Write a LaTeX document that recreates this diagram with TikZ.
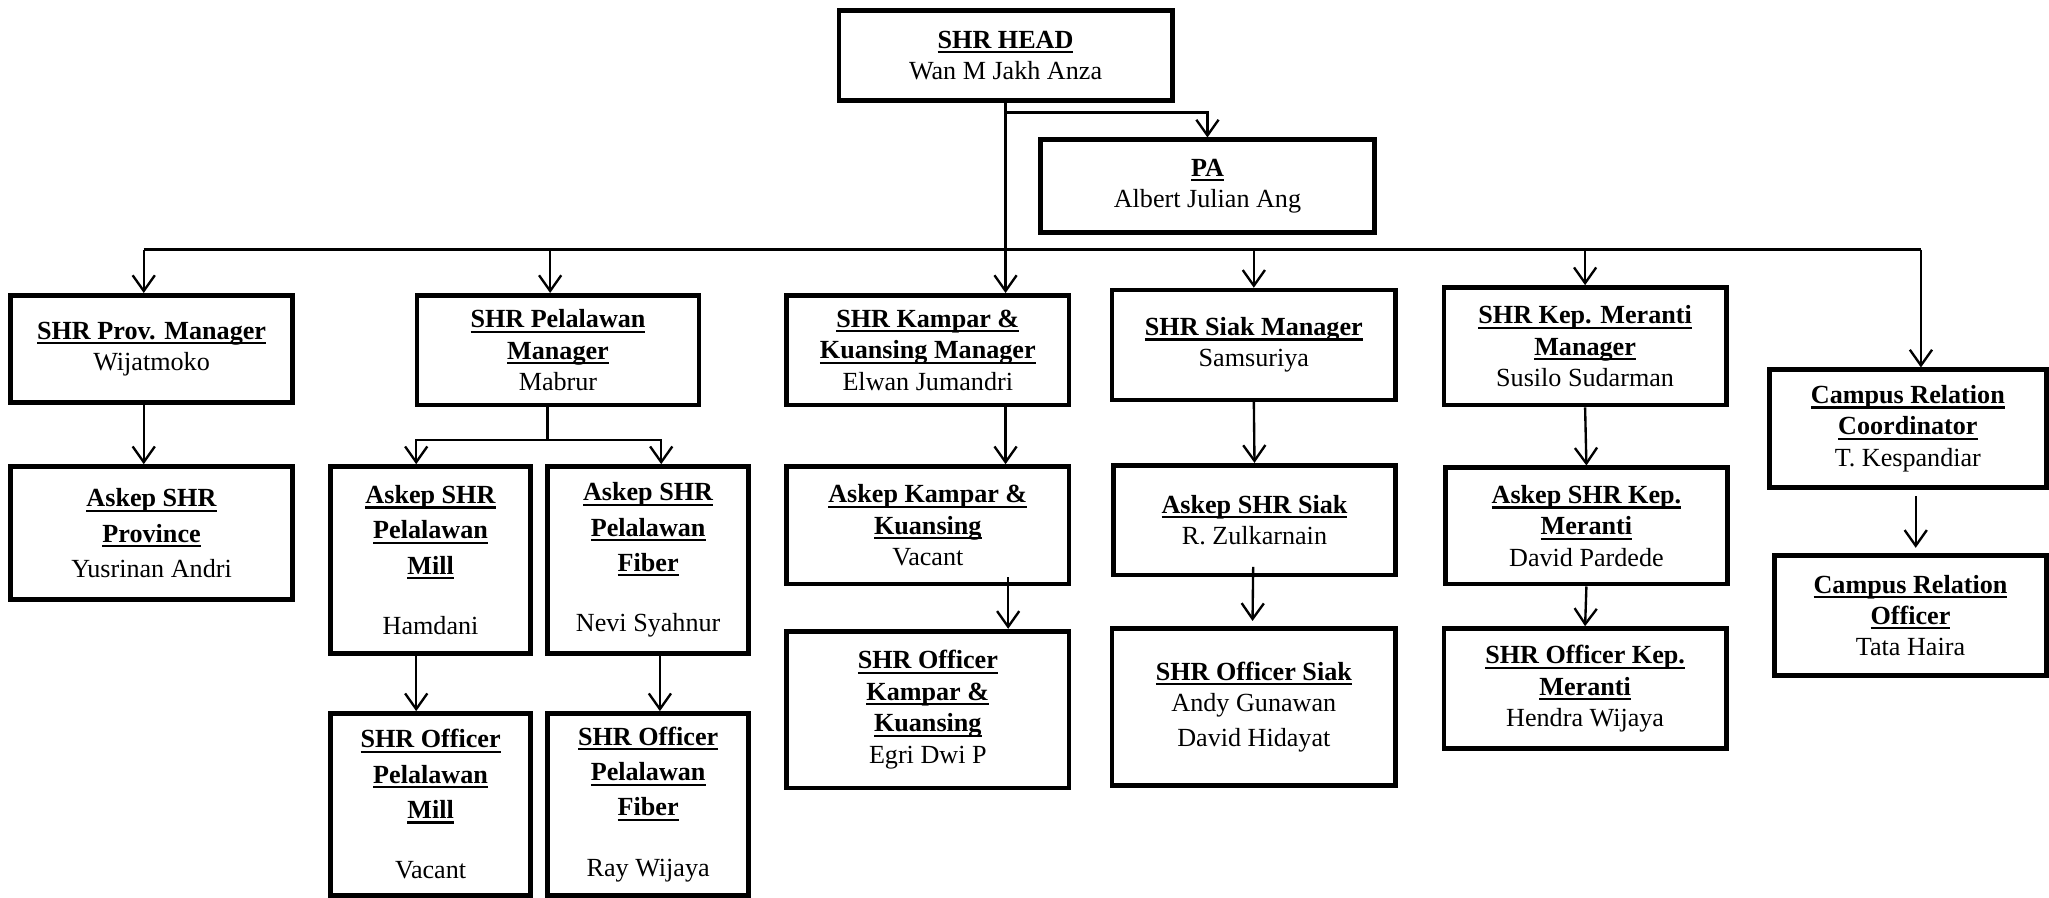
\documentclass[tikz,border=0pt]{standalone}
\usepackage{fontspec}
\setmainfont{Liberation Serif}
\usetikzlibrary{arrows.meta,calc}

\newcommand{\ttl}[1]{\leavevmode\setbox0\hbox{\textbf{#1}}\rlap{\rule[-1.9pt]{\wd0}{0.8pt}}\box0}

\tikzset{
    post/.style={draw, line width=1.8pt, align=center, inner sep=1pt,
        font=\fontsize{10}{12}\selectfont},
    tallpost/.style={post, font=\fontsize{10}{13.5}\selectfont},
    boxsize/.style 2 args={minimum width=#1*0.5pt, minimum height=#2*0.5pt},
    line/.style={line width=0.9pt},
    link/.style={line, -{Straight Barb[length=6pt,width=8.5pt]}},
}

\begin{document}
\begin{tikzpicture}[x=0.5pt, y=-0.5pt]
    
    \useasboundingbox (0,0) rectangle (1568,687);
    
    %head and PA:
    \node[post, boxsize={255}{69}] (head) at (769.5,42.5) {\ttl{SHR HEAD}\\ Wan M Jakh Anza};
    \node[post, boxsize={256}{71}] (pa) at (924,142.5) {\ttl{PA}\\ Albert Julian Ang};
    
    %managers:
    \node[post, boxsize={216}{82}] (prov) at (116,267) {\ttl{SHR Prov. Manager}\\ Wijatmoko};
    \node[post, boxsize={216}{84}] (pel) at (427,268) {\ttl{SHR Pelalawan}\\ \ttl{Manager}\\ Mabrur};
    \node[post, boxsize={216}{84}] (kam) at (710,268) {\ttl{SHR Kampar \&}\\ \ttl{Kuansing Manager}\\ Elwan Jumandri};
    \node[post, boxsize={217}{84}] (siak) at (959.5,264) {\ttl{SHR Siak Manager}\\ Samsuriya};
    \node[post, boxsize={216}{90}] (mer) at (1213,265) {\ttl{SHR Kep. Meranti}\\ \ttl{Manager}\\ Susilo Sudarman};
    \node[post, boxsize={212}{90}] (camp) at (1460,328) {\ttl{Campus Relation}\\ \ttl{Coordinator}\\ T. Kespandiar};
    
    %askep:
    \node[tallpost, boxsize={216}{102}] (askprov) at (116,408) {\ttl{Askep SHR}\\ \ttl{Province}\\ Yusrinan Andri};
    \node[tallpost, boxsize={153}{143}] (askmill) at (329.5,428.5) {\ttl{Askep SHR}\\ \ttl{Pelalawan}\\ \ttl{Mill}\\[9.5pt] Hamdani};
    \node[tallpost, boxsize={154}{143}] (askfib) at (496,428.5) {\ttl{Askep SHR}\\ \ttl{Pelalawan}\\ \ttl{Fiber}\\[9.5pt] Nevi Syahnur};
    \node[post, boxsize={216}{90}] (askkam) at (710,402) {\ttl{Askep Kampar \&}\\ \ttl{Kuansing}\\ Vacant};
    \node[post, boxsize={216}{84}] (asksiak) at (960,398) {\ttl{Askep SHR Siak}\\ R. Zulkarnain};
    \node[post, boxsize={216}{89}] (askmer) at (1214,402.5) {\ttl{Askep SHR Kep.}\\ \ttl{Meranti}\\ David Pardede};
    \node[post, boxsize={208}{92}] (offcamp) at (1462,471) {\ttl{Campus Relation}\\ \ttl{Officer}\\ Tata Haira};
    
    %officers:
    \node[tallpost, boxsize={153}{139}] (offmill) at (329.5,615.5) {\ttl{SHR Officer}\\ \ttl{Pelalawan}\\ \ttl{Mill}\\[9.5pt] Vacant};
    \node[tallpost, boxsize={154}{139}] (offfib) at (496,615.5) {\ttl{SHR Officer}\\ \ttl{Pelalawan}\\ \ttl{Fiber}\\[9.5pt] Ray Wijaya};
    \node[post, boxsize={216}{120}] (offkam) at (710,543) {\ttl{SHR Officer}\\ \ttl{Kampar \&}\\ \ttl{Kuansing}\\ Egri Dwi P};
    \node[post, boxsize={217}{120}] (offsiak) at (959.5,541) {\ttl{SHR Officer Siak}\\ Andy Gunawan\\[1.5pt] David Hidayat};
    \node[post, boxsize={216}{92}] (offmer) at (1213,527) {\ttl{SHR Officer Kep.}\\ \ttl{Meranti}\\ Hendra Wijaya};
    
    %lines from the head:
    \coordinate (fork) at (769.5,86);
    \coordinate (bus) at (0,191);
    \draw[link] (fork) -| (pa.north);
    \draw[link] (head.south) -- (head.south |- kam.north);
    \draw[line] ($(prov.north |- bus)+(-6,0)$) -- ($(camp.north |- bus)+(10,0)$);
    \foreach \n/\dx in {prov/-6, pel/-6, siak/0, mer/0, camp/10}
        \draw[link] ($(\n.north |- bus)+(\dx,0)$) -- ($(\n.north)+(\dx,0)$);
    
    %lines below the managers:
    \draw[link] ($(prov.south)+(-6,0)$) -- ($(askprov.north)+(-6,0)$);
    \draw[line] ($(pel.south)+(-8,0)$) -- ++(0,25) coordinate (pelfork);
    \draw[link] (pelfork) -| ($(askmill.north)+(-11,0)$);
    \draw[link] (pelfork) -| ($(askfib.north)+(10,0)$);
    \draw[link] ($(askmill.south)+(-11,0)$) -- ($(offmill.north)+(-11,0)$);
    \draw[link] ($(askfib.south)+(9,0)$) -- ($(offfib.north)+(9,0)$);
    \draw[link] (head.south |- kam.south) -- (head.south |- askkam.north);
    \draw[link] ($(head.south |- askkam.south)+(2,-7)$) -- ($(head.south |- offkam.north)+(2,0)$);
    \draw[link] (siak.south) -- (asksiak.north);
    \draw[link] ($(asksiak.south)+(-1,-8)$) -- ($(offsiak.north)+(-1,-4)$);
    \draw[link] (mer.south) -- (askmer.north);
    \draw[link] (askmer.south) -- (offmer.north);
    \draw[link] ($(camp.south)+(6,5)$) -- ($(offcamp.north)+(4,-4)$);
    
\end{tikzpicture}
\end{document}
